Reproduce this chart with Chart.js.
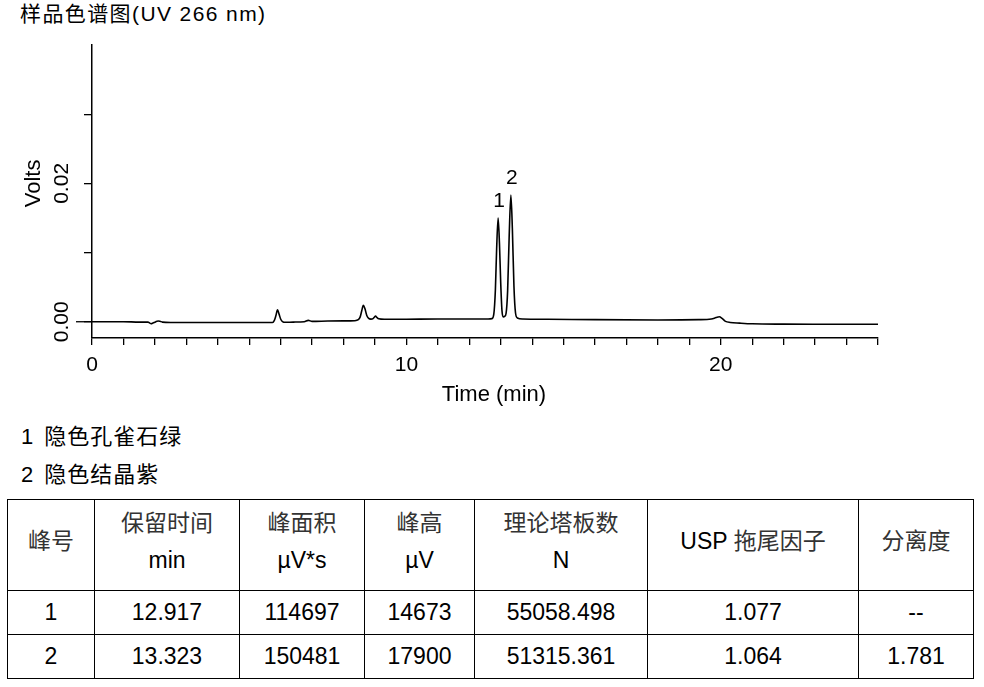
<!DOCTYPE html>
<html>
<head>
<meta charset="utf-8">
<script src="https://cdn.jsdelivr.net/npm/chart.js@4"></script>
<style>
html,body{margin:0;padding:0;background:#fff;}
body{width:984px;height:687px;position:relative;overflow:hidden;font-family:"Liberation Sans",Arial,"Noto Sans CJK SC",sans-serif;color:#000;}
#title{position:absolute;left:20px;top:0;font-size:21px;line-height:28px;letter-spacing:1.4px;white-space:nowrap;}
#c{position:absolute;left:0;top:0;}
.legend{position:absolute;left:21px;font-size:22px;line-height:28px;letter-spacing:1px;white-space:nowrap;}
.legend span{padding-left:10px;}
table{position:absolute;left:7px;top:499px;border-collapse:collapse;width:966px;table-layout:fixed;font-size:23px;}
td{border:1px solid #000;text-align:center;vertical-align:middle;padding:0;line-height:37px;}
tr.hd td{padding-bottom:7px;}
.cjk{color:#333;}
</style>
</head>
<body>
<div id="title">样品色谱图(UV 266 nm)</div>
<canvas id="c" width="984" height="420"></canvas>
<div class="legend" style="top:423px;">1<span>隐色孔雀石绿</span></div>
<div class="legend" style="top:461px;">2<span>隐色结晶紫</span></div>
<table>
<colgroup>
<col style="width:87px"><col style="width:145px"><col style="width:125px"><col style="width:110px"><col style="width:173px"><col style="width:211px"><col style="width:115px">
</colgroup>
<tbody id="tb"></tbody>
</table>
<script>
// ---- chromatogram data ----
const timeMin = [
  0, 0.5, 1.0, 1.5, 1.78, 1.84, 1.88, 1.94, 2.02, 2.1, 2.16, 2.24, 2.5, 3.0, 4.0, 5.0,
  5.6, 5.74, 5.8, 5.85, 5.9, 5.95, 6.0, 6.06, 6.15, 6.4, 6.75, 6.88, 7.0, 7.5, 8.0,
  8.35, 8.47, 8.53, 8.58, 8.63, 8.68, 8.74, 8.8, 8.87, 8.94, 8.98, 9.02, 9.06, 9.12, 9.3,
  10.0, 11.0, 12.0, 12.6, 12.72, 12.78, 12.83, 12.87, 12.917, 12.96, 13.0, 13.04, 13.08,
  13.13, 13.17, 13.22, 13.27, 13.323, 13.37, 13.42, 13.47, 13.53, 13.7, 14.5, 16.0, 18.0,
  19.3, 19.7, 19.85, 19.95, 20.05, 20.15, 20.3, 20.6, 21.0, 22.0, 23.0, 24.0, 25.0
];
const signalV = [
  0, 0, 0, -0.00005, -0.00005, -0.0002, -0.00028, -0.00018, -0.00002, 0.0001, 0.00008, -0.00005, -0.0001, -0.0001, -0.00012, -0.00012,
  -0.0001, -0.0001, 0.0002, 0.0009, 0.00172, 0.0011, 0.0004, 0.00002, -0.00008, -0.00005, 0, 0.0002, 0.00005, 0.0001, 0.00012,
  0.00015, 0.0003, 0.0007, 0.0016, 0.00238, 0.0019, 0.0009, 0.00048, 0.00038, 0.00045, 0.00065, 0.00082, 0.00062, 0.00042, 0.00035,
  0.00036, 0.0004, 0.0004, 0.0004, 0.00045, 0.0011, 0.0046, 0.0105, 0.0150, 0.0113, 0.0056, 0.0016, 0.0007,
  0.0008, 0.0012, 0.0045, 0.0125, 0.0183, 0.0135, 0.0052, 0.0013, 0.00055, 0.0004, 0.00036, 0.0003, 0.00026,
  0.0003, 0.0004, 0.0006, 0.00072, 0.00045, 0.00005, -0.0001, -0.0002, -0.0003, -0.00035, -0.00036, -0.00037, -0.00037
];
// ---- axis ticks ----
const xTickValues = [0,1,2,3,4,5,6,7,8,9,10,11,12,13,14,15,16,17,18,19,20,21,22,23,24,25];
const xLabelValues = [0, 10, 20];
const xLabelTexts = ['0', '10', '20'];
const yTickValues = [0, 0.01, 0.02, 0.03];
const yLabelValues = [0, 0.02];
const yLabelTexts = ['0.00', '0.02'];
// ---- peak annotations ----
const peakNames = ['1', '2'];
const peakTimes = [12.917, 13.323];
const peakApexV = [0.0150, 0.0183];
// ---- results table ----
const tableHeader1 = ['峰号', '保留时间', '峰面积', '峰高', '理论塔板数', 'USP 拖尾因子', '分离度'];
const tableHeader2 = ['', 'min', 'µV*s', 'µV', 'N', '', ''];
const peakRows = [
  ['1', '12.917', '114697', '14673', '55058.498', '1.077', '--'],
  ['2', '13.323', '150481', '17900', '51315.361', '1.064', '1.781']
];

// build table
const tb = document.getElementById('tb');
{
  const tr = document.createElement('tr');
  tr.className = 'hd';
  tr.style.height = '91px';
  tableHeader1.forEach((h, i) => {
    const td = document.createElement('td');
    const unit = tableHeader2[i];
    const m = h.match(/^([A-Za-z ]*)(.*)$/);
    let html = '';
    if (m[1]) html += m[1];
    html += '<span class="cjk">' + m[2] + '</span>';
    if (unit) html += '<br>' + unit;
    td.innerHTML = html;
    tr.appendChild(td);
  });
  tb.appendChild(tr);
}
peakRows.forEach(r => {
  const tr = document.createElement('tr');
  tr.style.height = '44px';
  r.forEach(c => { const td = document.createElement('td'); td.textContent = c; tr.appendChild(td); });
  tb.appendChild(tr);
});

const FONT = '"Liberation Sans", Arial, sans-serif';
const points = timeMin.map((t, i) => ({x: t, y: signalV[i]}));

const annot = {
  id: 'annot',
  afterDraw(chart) {
    const ctx = chart.ctx;
    const xs = chart.scales.x, ys = chart.scales.y;
    ctx.save();
    ctx.fillStyle = '#000';
    ctx.strokeStyle = '#000';
    // longer tick at zero
    ctx.lineWidth = 1.3;
    const y0 = ys.getPixelForValue(0);
    ctx.beginPath();
    ctx.moveTo(chart.chartArea.left - 16, y0);
    ctx.lineTo(chart.chartArea.left, y0);
    ctx.stroke();
    // rotated y tick labels
    ctx.font = '21px ' + FONT;
    ctx.textAlign = 'center';
    ctx.textBaseline = 'middle';
    yLabelValues.forEach((v, i) => {
      ctx.save();
      ctx.translate(62, ys.getPixelForValue(v));
      ctx.rotate(-Math.PI / 2);
      ctx.fillText(yLabelTexts[i], 0, 0);
      ctx.restore();
    });
    // y title
    ctx.save();
    ctx.font = '22px ' + FONT;
    ctx.translate(34, ys.getPixelForValue(0.02));
    ctx.rotate(-Math.PI / 2);
    ctx.fillText('Volts', 0, 0);
    ctx.restore();
    // x title
    ctx.font = '22px ' + FONT;
    ctx.fillText('Time (min)', (chart.chartArea.left + chart.chartArea.right) / 2 + 9, 395);
    // peak labels
    ctx.font = '21px ' + FONT;
    ctx.textBaseline = 'alphabetic';
    peakNames.forEach((n, i) => {
      ctx.fillText(n, xs.getPixelForValue(peakTimes[i]) + 1, ys.getPixelForValue(peakApexV[i]) - 11);
    });
    ctx.restore();
  }
};

new Chart(document.getElementById('c'), {
  type: 'line',
  data: {
    datasets: [{
      data: points,
      borderColor: '#000',
      borderWidth: 1.6,
      pointRadius: 0,
      fill: false,
      cubicInterpolationMode: 'monotone'
    }]
  },
  options: {
    responsive: false,
    animation: false,
    devicePixelRatio: 1,
    layout: {padding: {left: 0, right: 106, top: 45, bottom: 0}},
    plugins: {legend: {display: false}, tooltip: {enabled: false}},
    scales: {
      x: {
        type: 'linear',
        min: 0, max: 25,
        afterBuildTicks: s => { s.ticks = xTickValues.map(v => ({value: v})); },
        afterFit: s => { s.height = 82; },
        ticks: {
          autoSkip: false, maxRotation: 0, minRotation: 0,
          color: '#000', font: {family: FONT, size: 21}, padding: 8,
          callback: v => { const k = xLabelValues.indexOf(v); return k >= 0 ? xLabelTexts[k] : ''; }
        },
        grid: {drawOnChartArea: false, drawTicks: true, tickLength: 7, color: '#000', lineWidth: 1.3},
        border: {display: true, color: '#000', width: 1.5}
      },
      y: {
        type: 'linear',
        min: -0.00235, max: 0.04,
        afterBuildTicks: s => { s.ticks = yTickValues.map(v => ({value: v})); },
        afterFit: s => { s.width = 92; },
        ticks: {display: false},
        grid: {drawOnChartArea: false, drawTicks: true, tickLength: 8, color: '#000', lineWidth: 1.3},
        border: {display: true, color: '#000', width: 1.5}
      }
    }
  },
  plugins: [annot]
});
</script>
</body>
</html>
